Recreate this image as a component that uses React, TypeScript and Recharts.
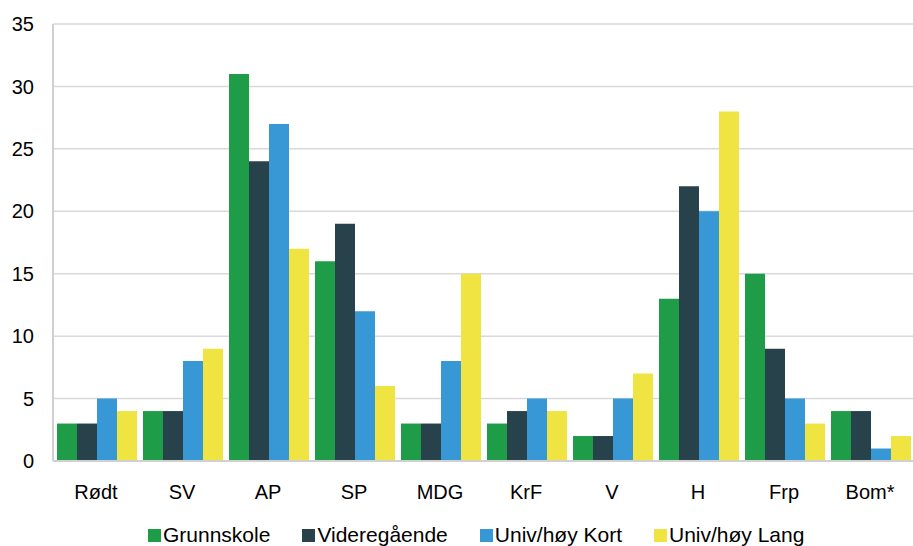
import { BarChart, Bar, XAxis, YAxis, CartesianGrid, Legend } from 'recharts';

const parties = ['Rødt', 'SV', 'AP', 'SP', 'MDG', 'KrF', 'V', 'H', 'Frp', 'Bom*'];
const grunnskole = [3, 4, 31, 16, 3, 3, 2, 13, 15, 4];
const videregaende = [3, 4, 24, 19, 3, 4, 2, 22, 9, 4];
const univKort = [5, 8, 27, 12, 8, 5, 5, 20, 5, 1];
const univLang = [4, 9, 17, 6, 15, 4, 7, 28, 3, 2];
const yTicks = [0, 5, 10, 15, 20, 25, 30, 35];

const series = [
  { key: 'Grunnskole', color: '#1f9c48' },
  { key: 'Videregående', color: '#27424a' },
  { key: 'Univ/høy Kort', color: '#3897d5' },
  { key: 'Univ/høy Lang', color: '#f0e443' },
];

const data = parties.map((p, i) => ({
  name: p,
  Grunnskole: grunnskole[i],
  Videregående: videregaende[i],
  'Univ/høy Kort': univKort[i],
  'Univ/høy Lang': univLang[i],
}));

const font = 'Liberation Sans, Arial, sans-serif';

// egen legend så rekkefølge og høyde blir som i originalen
const LegendContent = () => (
  <div
    style={{
      height: 45,
      display: 'flex',
      justifyContent: 'flex-start',
      alignItems: 'flex-end',
      paddingLeft: 132,
      fontFamily: font,
      fontSize: 21,
      color: '#000',
    }}
  >
    {series.map((s) => (
      <div key={s.key} style={{ display: 'flex', alignItems: 'center', margin: '0 16px', lineHeight: '22px', whiteSpace: 'nowrap' }}>
        <span style={{ width: 13, height: 13, background: s.color, display: 'inline-block', marginRight: 2 }} />
        <span>{s.key}</span>
      </div>
    ))}
  </div>
);

export default function App() {
  return (
    <div style={{ position: 'absolute', left: 0, top: 0, width: 913, height: 546, background: '#fff' }}>
      <BarChart
        width={913}
        height={546}
        data={data}
        margin={{ top: 24, right: 0, bottom: 0, left: 0 }}
        barCategoryGap={4}
        barGap={0}
      >
        <CartesianGrid vertical={false} stroke="#d9d9d9" strokeWidth={1.5} />
        <XAxis
          dataKey="name"
          tickLine={false}
          axisLine={{ stroke: '#d0d0d0', strokeWidth: 2 }}
          tick={{ fontFamily: font, fontSize: 20, fill: '#000' }}
          tickMargin={18}
          height={40}
          interval={0}
        />
        <YAxis
          domain={[0, 35]}
          ticks={yTicks}
          width={53}
          tickLine={false}
          tickSize={0}
          tickMargin={19}
          axisLine={{ stroke: '#d0d0d0', strokeWidth: 2 }}
          tick={{ fontFamily: font, fontSize: 20, fill: '#000' }}
        />
        <Legend verticalAlign="bottom" height={45} content={<LegendContent />} />
        {series.map((s) => (
          <Bar key={s.key} dataKey={s.key} fill={s.color} isAnimationActive={false} />
        ))}
      </BarChart>
    </div>
  );
}
